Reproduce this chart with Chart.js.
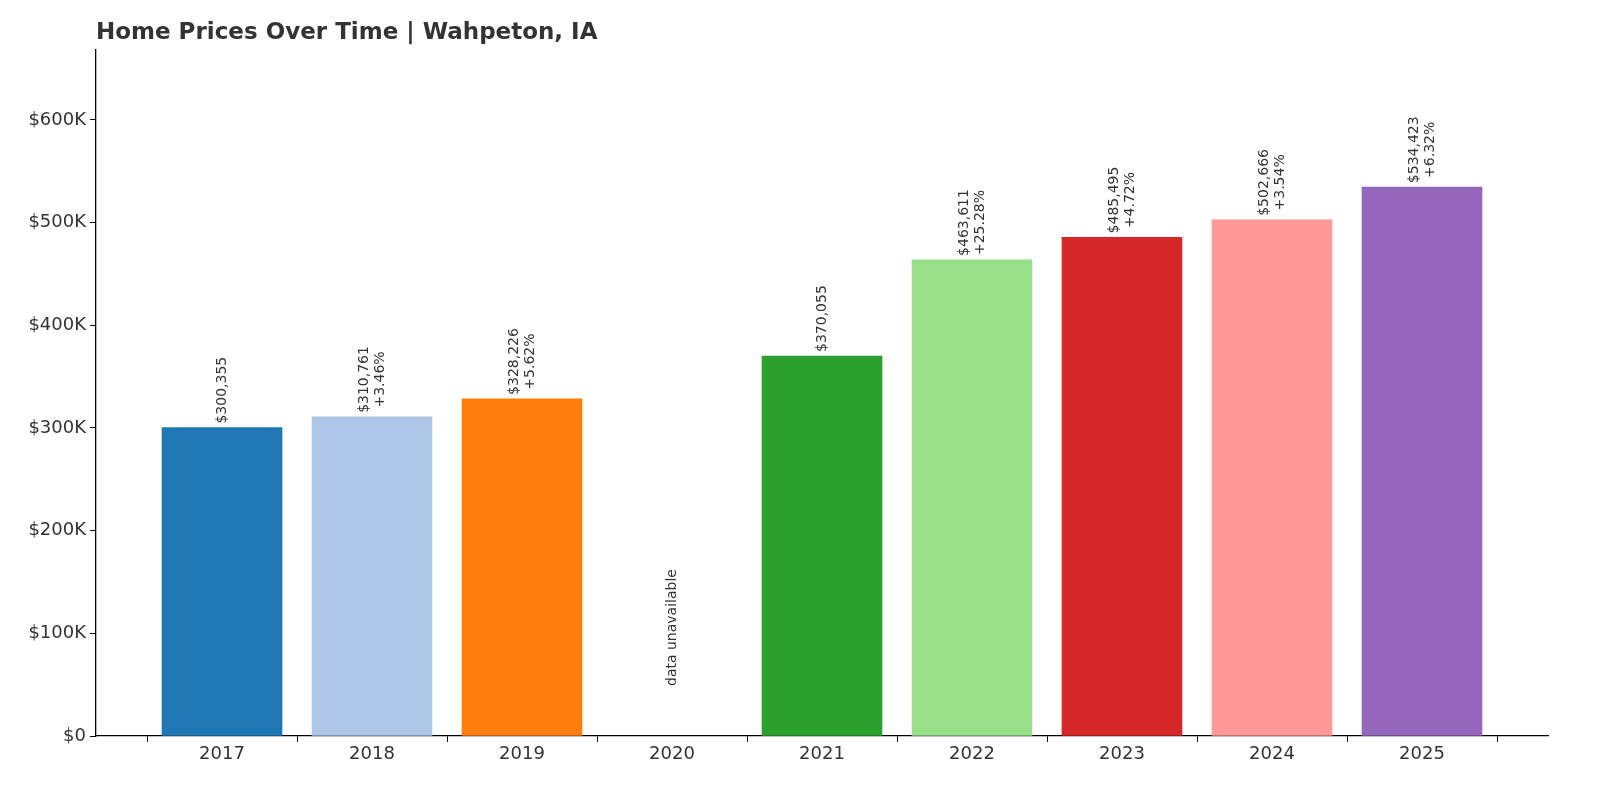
<!DOCTYPE html>
<html><head><meta charset="utf-8">
<script src="https://cdn.jsdelivr.net/npm/chart.js@4.4.0/dist/chart.umd.min.js"></script>
<style>html,body{margin:0;padding:0;background:#fff;overflow:hidden}#wrap{width:1600px;height:800px}</style>
</head><body><div id="wrap"><canvas id="c" width="1600" height="800"></canvas></div>
<script>
const years = ['2017','2018','2019','2020','2021','2022','2023','2024','2025'];
const prices = [300355, 310761, 328226, null, 370055, 463611, 485495, 502666, 534423];
const changes = ['', '+3.46%', '+5.62%', '', '', '+25.28%', '+4.72%', '+3.54%', '+6.32%'];
const colors = ['#1f77b4','#aec7e8','#ff7f0e','#ffbb78','#2ca02c','#98df8a','#d62728','#ff9896','#9467bd'];
const yTicks = [0,100000,200000,300000,400000,500000,600000];
const titleText = 'Home Prices Over Time | Wahpeton, IA';

const fmt = v => '$' + v.toLocaleString('en-US');
const txt = '#333333';
const labelPlugin = {
  id: 'labels',
  afterDraw(chart) {
    const ctx = chart.ctx;
    ctx.save();
    ctx.fillStyle = txt;
    ctx.font = 'bold 23px "DejaVu Sans"';
    ctx.textAlign = 'left';
    ctx.fillText(titleText, 96, 39);
    const xs = chart.scales.x, ys = chart.scales.y;
    ctx.font = '14px "DejaVu Sans"';
    prices.forEach((v, i) => {
      const x = xs.getPixelForValue(i);
      if (v === null) {
        ctx.save();
        ctx.translate(x, ys.getPixelForValue(0) - 50);
        ctx.rotate(-Math.PI/2);
        ctx.textAlign = 'left'; ctx.textBaseline = 'middle';
        ctx.fillText('data unavailable', 0, 0);
        ctx.restore();
        return;
      }
      const top = ys.getPixelForValue(v) - 4;
      const lines = changes[i] ? [fmt(v), changes[i]] : [fmt(v)];
      const lh = 16;
      ctx.save();
      ctx.translate(x, top);
      ctx.rotate(-Math.PI/2);
      ctx.textAlign = 'center'; ctx.textBaseline = 'middle';
      const w = Math.max(...lines.map(l => ctx.measureText(l).width));
      lines.forEach((l, k) => {
        ctx.fillText(l, w/2, (k - (lines.length - 1)/2) * lh);
      });
      ctx.restore();
    });
    ctx.restore();
  }
};

new Chart(document.getElementById('c'), {
  type: 'bar',
  data: { datasets: [{ data: prices.map((p, i) => ({ x: i, y: p })), backgroundColor: colors, barThickness: 120 }] },
  options: {
    responsive: false, animation: false, devicePixelRatio: 1,
    layout: { padding: { top: 50, right: 52, left: 0, bottom: 0 } },
    plugins: { legend: { display: false }, tooltip: { enabled: false } },
    scales: {
      x: {
        type: 'linear', min: -0.84, max: 8.84, offset: false,
        grid: { display: true, drawOnChartArea: false, drawTicks: true, tickLength: 6, color: '#000' },
        border: { color: '#000', width: 1.3 },
        afterBuildTicks(s) { s.ticks = years.map((y, i) => ({ value: i })); },
        ticks: { color: txt, font: { family: 'DejaVu Sans', size: 18 }, padding: 2, autoSkip: false, maxRotation: 0,
          callback: v => years[v] },
        afterFit(s) { s.height = 64; }
      },
      y: {
        min: 0, max: 668000,
        grid: { display: true, drawOnChartArea: false, drawTicks: true, tickLength: 6, color: '#000' },
        border: { color: '#000', width: 1.3 },
        afterBuildTicks(s) { s.ticks = yTicks.map(v => ({ value: v })); },
        ticks: { color: txt, font: { family: 'DejaVu Sans', size: 18 }, padding: 4,
          callback: v => v === 0 ? '$0' : '$' + (v/1000) + 'K' },
        afterFit(s) { s.width = 96; }
      }
    }
  },
  plugins: [labelPlugin]
});
</script></body></html>
